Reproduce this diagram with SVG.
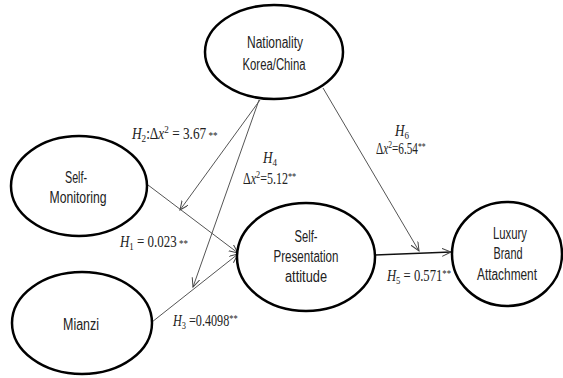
<svg xmlns="http://www.w3.org/2000/svg" width="563" height="378" viewBox="0 0 563 378">
<style>
.node ellipse{fill:#fff;stroke:#000;stroke-width:2.5}
.node text{font-family:"Liberation Sans","Open Sans",sans-serif;font-size:16px;fill:#222;text-anchor:middle}
.conn line{stroke:#555;stroke-width:1;fill:none}
.conn line.main{stroke:#111;stroke-width:1.4}
.lbl{font-family:"Liberation Serif",serif;font-size:16px;fill:#222}
.i{font-style:italic}
.s{font-size:11px}
</style>
<defs>
<marker id="arr" markerUnits="userSpaceOnUse" markerWidth="12" markerHeight="10" refX="9" refY="4" orient="auto" viewBox="0 0 12 10">
<path d="M0,0 L9,4 L0,8" fill="none" stroke="#444" stroke-width="1"/>
</marker>
</defs>
<rect width="563" height="378" fill="#fff"/>
<g id="connectors" class="conn">
<line x1="148" y1="185" x2="238" y2="253" marker-end="url(#arr)"/>
<line x1="152" y1="322" x2="238" y2="254" marker-end="url(#arr)"/>
<line x1="260" y1="100" x2="180" y2="210" marker-end="url(#arr)"/>
<line x1="259" y1="100" x2="193" y2="287" marker-end="url(#arr)"/>
<line x1="323" y1="88" x2="419" y2="251" marker-end="url(#arr)"/>
<line class="main" x1="375" y1="255" x2="451" y2="252" marker-end="url(#arr)"/>
</g>
<g id="nationality" class="node">
<ellipse cx="274" cy="52" rx="69" ry="47"/>
<text x="275" y="48" textLength="56" lengthAdjust="spacingAndGlyphs">Nationality</text>
<text x="274" y="70" textLength="63" lengthAdjust="spacingAndGlyphs">Korea/China</text>
</g>
<g id="self-monitoring" class="node">
<ellipse cx="79" cy="186" rx="68" ry="50"/>
<text x="76" y="183" textLength="22" lengthAdjust="spacingAndGlyphs">Self-</text>
<text x="78" y="203" textLength="57" lengthAdjust="spacingAndGlyphs">Monitoring</text>
</g>
<g id="mianzi" class="node">
<ellipse cx="82" cy="323" rx="70" ry="51"/>
<text x="81" y="330" textLength="36" lengthAdjust="spacingAndGlyphs">Mianzi</text>
</g>
<g id="self-presentation" class="node">
<ellipse cx="306" cy="257" rx="69" ry="54"/>
<text x="306" y="242" textLength="23" lengthAdjust="spacingAndGlyphs">Self-</text>
<text x="306" y="262" textLength="65" lengthAdjust="spacingAndGlyphs">Presentation</text>
<text x="306" y="282" textLength="42" lengthAdjust="spacingAndGlyphs">attitude</text>
</g>
<g id="luxury" class="node">
<ellipse cx="507" cy="254" rx="55" ry="52"/>
<text x="510" y="239" textLength="34" lengthAdjust="spacingAndGlyphs">Luxury</text>
<text x="508" y="259" textLength="29" lengthAdjust="spacingAndGlyphs">Brand</text>
<text x="507" y="280" textLength="60" lengthAdjust="spacingAndGlyphs">Attachment</text>
</g>
<g id="labels">
<text class="lbl" transform="translate(132,139) scale(0.83,1)"><tspan class="i">H</tspan><tspan class="s" dy="3">2</tspan><tspan dy="-3">:Δ</tspan><tspan class="i">x</tspan><tspan class="s" dy="-6">2</tspan><tspan dy="6"> = 3.67</tspan><tspan class="s"> **</tspan></text>
<text class="lbl" transform="translate(263,163) scale(0.82,1)"><tspan class="i">H</tspan><tspan class="s" dy="3">4</tspan></text>
<text class="lbl" transform="translate(243,184) scale(0.75,1)">Δ<tspan class="i">x</tspan><tspan class="s" dy="-6">2</tspan><tspan dy="6">=5.12</tspan><tspan class="s" dy="-4">**</tspan></text>
<text class="lbl" transform="translate(395,136) scale(0.82,1)"><tspan class="i">H</tspan><tspan class="s" dy="3">6</tspan></text>
<text class="lbl" transform="translate(376,154) scale(0.7,1)">Δ<tspan class="i">x</tspan><tspan class="s" dy="-6">2</tspan><tspan dy="6">=6.54</tspan><tspan class="s" dy="-4">**</tspan></text>
<text class="lbl" transform="translate(120,247) scale(0.81,1)"><tspan class="i">H</tspan><tspan class="s" dy="3">1</tspan><tspan dy="-3"> = 0.023</tspan><tspan class="s"> **</tspan></text>
<text class="lbl" transform="translate(173,326) scale(0.76,1)"><tspan class="i">H</tspan><tspan class="s" dy="3">3</tspan><tspan dy="-3"> =0.4098</tspan><tspan class="s" dy="-4">**</tspan></text>
<text class="lbl" transform="translate(387,281) scale(0.79,1)"><tspan class="i">H</tspan><tspan class="s" dy="3">5</tspan><tspan dy="-3"> = 0.571</tspan><tspan class="s" dy="-4">**</tspan></text>
</g>
</svg>
